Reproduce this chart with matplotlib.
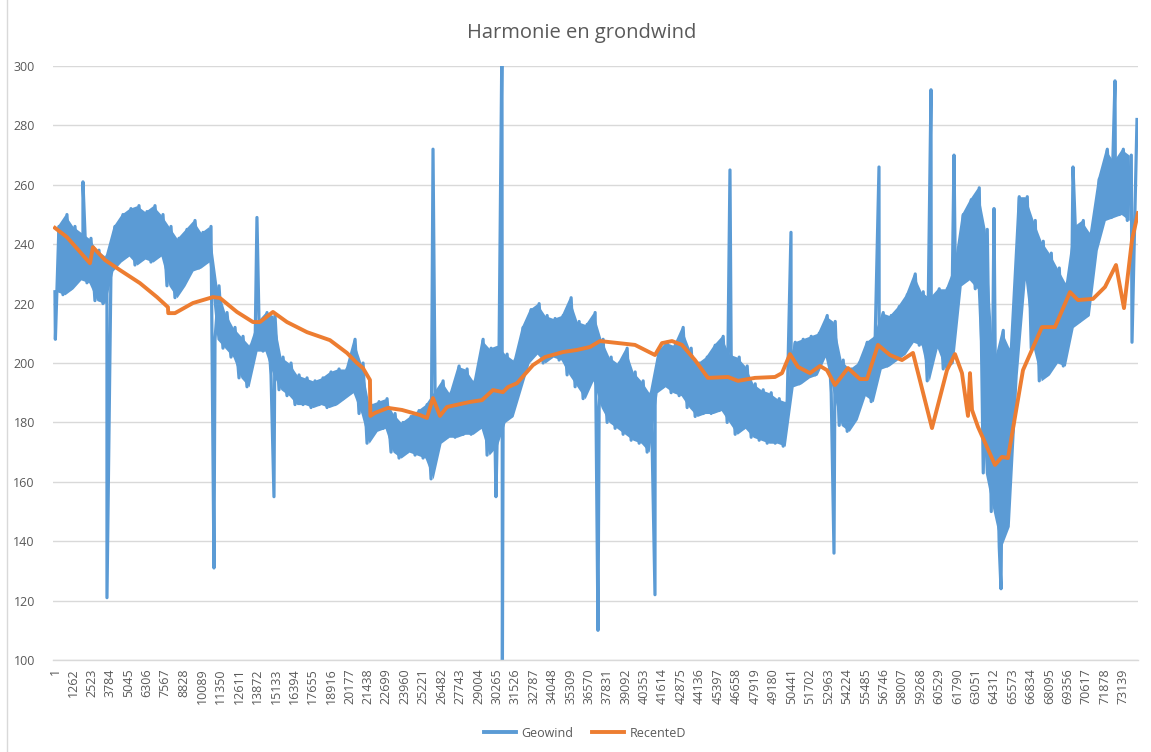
import matplotlib.pyplot as plt
from matplotlib.lines import Line2D

block = 548
geo_low = [224, 223, 225, 228, 227, 221, 220, 231, 234, 236,
           233, 235, 234, 236, 226, 222, 226, 231, 232, 234,
           208, 205, 202, 195, 192, 204, 204, 196, 191, 189,
           186, 186, 185, 186, 185, 186, 188, 190, 183, 173,
           177, 178, 170, 168, 170, 169, 168, 161, 173, 175,
           175, 176, 176, 178, 169, 172, 180, 182, 191, 200,
           203, 200, 202, 201, 196, 192, 188, 194, 185, 180,
           178, 176, 174, 173, 170, 190, 192, 190, 189, 185,
           182, 183, 183, 184, 180, 176, 178, 175, 174, 173,
           173, 172, 192, 193, 195, 196, 202, 190, 179, 177,
           181, 189, 187, 198, 199, 201, 203, 207, 206, 194,
           205, 198, 200, 226, 228, 225, 163, 150, 138, 145,
           196, 228, 205, 194, 196, 200, 199, 212, 214, 216,
           238, 248, 249, 250, 248]
geo_high = [246, 250, 246, 244, 242, 238, 236, 246, 250, 252,
            253, 251, 253, 250, 246, 242, 245, 248, 244, 246,
            226, 217, 212, 209, 206, 214, 217, 216, 202, 200,
            196, 195, 194, 195, 197, 198, 198, 208, 200, 186,
            187, 188, 183, 180, 182, 184, 186, 190, 194, 190,
            199, 198, 194, 208, 205, 206, 203, 201, 212, 218,
            220, 216, 215, 216, 222, 214, 213, 217, 208, 202,
            200, 205, 197, 194, 190, 204, 207, 206, 212, 205,
            200, 202, 206, 209, 203, 202, 199, 193, 191, 190,
            188, 187, 207, 208, 209, 210, 216, 214, 201, 198,
            200, 207, 209, 217, 216, 219, 223, 230, 224, 222,
            225, 225, 232, 250, 255, 259, 245, 200, 211, 205,
            256, 256, 248, 241, 237, 232, 227, 246, 248, 244,
            262, 272, 268, 272, 270]

# losse uitschieters in Geowind
spike_pos = [30, 1919, 3563, 10890, 13834, 14999, 25890, 30200, 30612, 30640,
             37186, 41090, 46225, 50403, 53348, 56430, 59990, 61566, 64305,
             64784, 69714, 72590, 73755, 74097]
spike_val = [208, 261, 121, 131, 249, 155, 272, 155, 310, 95,
             110, 122, 265, 244, 136, 266, 292, 270, 252,
             124, 266, 295, 207, 282]

# RecenteD
recent_pos = [1, 823, 2398, 2603, 3425, 4452, 5822, 6986, 7739, 7760, 8219,
              9451, 10821, 11300, 12464, 13560, 14039, 14929, 15888, 17258,
              18833, 19997, 20682, 21093, 21572, 21600, 21915, 22805, 23764,
              24996, 25475, 25886, 26366, 26845, 28420, 29242, 29995, 30680,
              31022, 31638, 32734, 33556, 34788, 35747, 36637, 37322, 39719,
              41089, 41568, 42253, 42938, 43829, 44719, 46088, 46773, 47937,
              49307, 49786, 50334, 50882, 51703, 52388, 52868, 53415, 54306,
              55127, 55607, 56360, 57182, 58003, 58757, 60058, 61085, 61633,
              62112, 62523, 62660, 62797, 63208, 64372, 64851, 65262, 66289,
              67590, 68481, 69508, 70056, 71083, 71905, 72658, 73206, 73754,
              74165]
recent_val = [245.5, 242.4, 233.6, 239.0, 234.7, 231.3, 226.9, 222.2, 218.8, 216.8, 216.8,
              220.2, 222.2, 221.9, 217.2, 213.8, 213.8, 217.2, 213.8, 210.4,
              207.7, 203.4, 200.0, 198.3, 194.3, 182.2, 183.2, 184.9, 184.2,
              182.5, 181.5, 188.2, 182.2, 185.2, 186.9, 187.5, 190.9, 190.2,
              191.9, 193.2, 199.3, 202.0, 203.7, 204.4, 205.4, 207.4, 206.1,
              202.7, 206.7, 207.4, 206.1, 201.0, 195.0, 195.3, 194.0, 195.0,
              195.3, 196.6, 203.0, 198.7, 196.6, 199.0, 197.6, 192.6, 198.3,
              194.6, 194.6, 206.1, 202.7, 201.0, 203.4, 178.1, 197.6, 203.0,
              196.6, 182.2, 196.6, 184.2, 178.5, 165.7, 168.4, 168.0, 197.6,
              212.1, 212.1, 223.9, 221.2, 221.6, 225.6, 233.0, 218.5, 241.4,
              250.5]

x_ticks = list(range(1, 73140, 1261))
y_ticks = [100, 120, 140, 160, 180, 200, 220, 240, 260, 280, 300]

# Geowind-reeks samenstellen: blokken laag/hoog, plus uitschieters
block_x = [1 + k * block + block // 4 for k in range(len(geo_low))]
points = []
for k in range(len(geo_low)):
    points.append((1 + k * block, geo_low[k]))
    points.append((1 + k * block + block // 2, geo_high[k]))
points += list(zip(spike_pos, spike_val))
points.sort(key=lambda p: p[0])
geo_x = [p[0] for p in points]
geo_y = [p[1] for p in points]

plt.rcParams['font.family'] = ['Open Sans', 'DejaVu Sans']
grey = '#595959'
blue = '#5b9bd5'
orange = '#ed7d31'

fig = plt.figure(figsize=(11.51, 7.52), dpi=100)
ax = fig.add_axes([0.046, 0.1223, 0.9427, 0.7899])

# de dichte ruis als band, daarover de lijn zelf
ax.fill_between(block_x, geo_low, geo_high, color=blue, lw=0)
ax.plot(geo_x, geo_y, color=blue, lw=2.3, solid_joinstyle='round', label='Geowind')
ax.plot(recent_pos, recent_val, color=orange, lw=2.8, solid_joinstyle='round', label='RecenteD')

ax.set_ylim(100, 300)
ax.set_xlim(-136, 74165)
ax.set_yticks(y_ticks)
ax.set_xticks(x_ticks)
ax.set_xticklabels([str(t) for t in x_ticks], rotation=90)
ax.tick_params(axis='both', length=0, colors=grey, labelsize=9)
ax.tick_params(axis='y', pad=13)
ax.tick_params(axis='x', pad=6)
ax.grid(axis='y', color='#d9d9d9', lw=1.0)
ax.set_axisbelow(True)
for side in ['top', 'right', 'left']:
    ax.spines[side].set_visible(False)
ax.spines['bottom'].set_color('#d9d9d9')
ax.spines['bottom'].set_linewidth(1.0)

fig.text(0.505, 0.956, 'Harmonie en grondwind', ha='center', va='center',
         fontsize=14.5, color=grey)

handles = [Line2D([], [], color=blue, lw=2.8), Line2D([], [], color=orange, lw=2.8)]
fig.legend(handles, ['Geowind', 'RecenteD'], loc='center', bbox_to_anchor=(0.508, 0.025),
           ncol=2, frameon=False, fontsize=9, labelcolor=grey,
           handlelength=2.6, columnspacing=1.5, handletextpad=0.4)

# rand van het grafiekgebied
fig.add_artist(Line2D([7 / 1151, 7 / 1151], [0, 1], color='#d9d9d9', lw=1.0))

fig.savefig('out.png', dpi=100)
